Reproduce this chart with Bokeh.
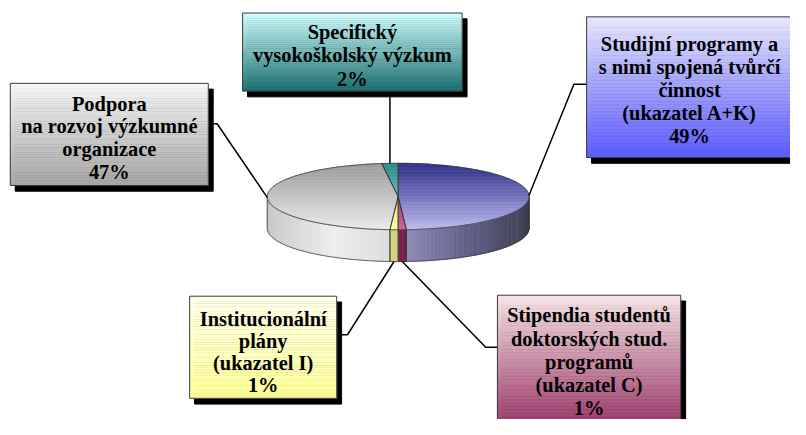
import numpy as np
from bokeh.plotting import figure
from bokeh.models import Range1d
from bokeh.core.properties import value
from bokeh.embed import file_html
from bokeh.resources import INLINE

# ---------------- data ----------------
categories = [
    "Studijní programy a s nimi spojená tvůrčí činnost (ukazatel A+K)",
    "Stipendia studentů doktorských stud. programů (ukazatel C)",
    "Institucionální plány (ukazatel I)",
    "Podpora na rozvoj výzkumné organizace",
    "Specifický vysokoškolský výzkum",
]
shares = [49, 1, 1, 47, 2]
label_lines = [
    ["Studijní programy a", "s nimi spojená tvůrčí", "činnost", "(ukazatel A+K)"],
    ["Stipendia studentů", "doktorských stud.", "programů", "(ukazatel C)"],
    ["Institucionální", "plány", "(ukazatel I)"],
    ["Podpora", "na rozvoj výzkumné", "organizace"],
    ["Specifický", "vysokoškolský výzkum"],
]
pct_labels = [f"{v}%" for v in shares]

# ---------------- styles / layout ----------------
top_colors = [("#2c2c86", "#bdbdf2"), ("#8a1c50", "#d0609a"), ("#c8c850", "#ffff9a"),
              ("#9a9a9a", "#ececec"), ("#248888", "#c8f4f4")]
side_stops = [
    [(0.5, "#9292be"), (0.75, "#62628a"), (1.0, "#3a3a4e")],
    [(0.0, "#7a1f4c"), (1.0, "#7a1f4c")],
    [(0.0, "#d4d47a"), (1.0, "#d4d47a")],
    [(0.0, "#c8c8c8"), (0.25, "#eeeeee"), (0.5, "#dadada")],
    [(0.0, "#1f7070"), (1.0, "#1f7070")],
]
box_grad = [("#e8e8fb", "#5b5bff"), ("#f6e6e6", "#993366"), ("#ffffee", "#ffff99"),
            ("#f6f6f6", "#a6a6a6"), ("#d2ffff", "#1d7373")]
# boxes in reference pixels: (left, top, right, bottom), text centre x, first line y, line step
boxes = [
    ((598, 17, 808, 163), 703, 45, 24.0),
    ((507, 306, 694, 446), 600.5, 327, 24.0),
    ((193, 307, 343, 413), 268, 331, 22.8),
    ((10, 86, 212, 192), 111, 107, 23.7),
    ((247, 13, 471, 94), 359, 33, 24.0),
]
leader_elbows = [
    [(585, 87), (598, 87)],
    [(495, 360), (507, 360)],
    [(354, 347), (343, 347)],
    [(221, 128), (212, 128)],
    [None, (None, 94)],
]
leader_anchor = ["top", "bottom", "bottom", "top", "top"]

REF_W, REF_H = 806, 435
cx, cyY, rx, ry, depth = 405.7, 203.5, 133.5, 34.5, 33.0
cy = REF_H - cyY


def Y(v):
    return REF_H - v


def h2r(h):
    return tuple(int(h[i:i + 2], 16) for i in (1, 3, 5))


def mix(c1, c2, t):
    t = min(max(t, 0.0), 1.0)
    a, b = h2r(c1), h2r(c2)
    return "#%02x%02x%02x" % tuple(int(round(a[i] + (b[i] - a[i]) * t)) for i in range(3))


def ramp(stops, u):
    if u <= stops[0][0]:
        return stops[0][1]
    for (p0, c0), (p1, c1) in zip(stops[:-1], stops[1:]):
        if u <= p1:
            return mix(c0, c1, (u - p0) / (p1 - p0) if p1 > p0 else 0)
    return stops[-1][1]


def top_pt(t):
    r = np.radians(t)
    return cx + rx * np.sin(r), cy + ry * np.cos(r)


def clip_band(poly, lo, hi):
    def half(pts, inside, yv):
        out = []
        for i in range(len(pts)):
            cur, prev = pts[i], pts[i - 1]
            def inter(p, q):
                tt = (yv - p[1]) / (q[1] - p[1])
                return (p[0] + tt * (q[0] - p[0]), yv)
            if inside(cur):
                if not inside(prev):
                    out.append(inter(prev, cur))
                out.append(cur)
            elif inside(prev):
                out.append(inter(prev, cur))
        return out
    pts = half(poly, lambda p: p[1] >= lo, lo)
    if len(pts) < 3:
        return []
    pts = half(pts, lambda p: p[1] <= hi, hi)
    return pts if len(pts) >= 3 else []


W, H = 790, 419
p = figure(width=W, height=H, x_range=Range1d(0, REF_W), y_range=Range1d(0, REF_H),
           output_backend="svg", toolbar_location=None, min_border=0,
           x_axis_location=None, y_axis_location=None)
p.grid.visible = False
p.outline_line_color = None
p.background_fill_color = "white"

total = float(sum(shares))
ends = np.cumsum(shares) / total * 360.0
starts = np.concatenate([[0.0], ends[:-1]])
mids = (starts + ends) / 2

# ---- side walls ----
sx, sy, sc = [], [], []
ox, oy = [], []
for i in range(len(shares)):
    lo, hi = max(starts[i], 90.0), min(ends[i], 270.0)
    if lo >= hi:
        continue
    n = max(2, int((hi - lo) / 1.2))
    ts = np.linspace(lo, hi, n + 1)
    for a, b in zip(ts[:-1], ts[1:]):
        xa, ya = top_pt(a)
        xb, yb = top_pt(b)
        sx.append([xa, xb, xb, xa])
        sy.append([ya, yb, yb - depth, ya - depth])
        u = ((xa + xb) / 2 - (cx - rx)) / (2 * rx)
        sc.append(ramp(side_stops[i], u))
    arc = [top_pt(t) for t in ts]
    ox.append([q[0] for q in arc] + [q[0] for q in arc[::-1]])
    oy.append([q[1] for q in arc] + [q[1] - depth for q in arc[::-1]])
p.patches(sx, sy, fill_color=sc, line_color=sc, line_width=0.6)
p.patches(ox, oy, fill_alpha=0, line_color="#3a3a3a", line_width=0.8)

# ---- top faces ----
tx, ty, tc = [], [], []
wx, wy = [], []
nb = 46
edges = np.linspace(cy - ry - 0.5, cy + ry + 0.5, nb + 1)
for i in range(len(shares)):
    ts = np.linspace(starts[i], ends[i], max(2, int((ends[i] - starts[i]) / 1.0)) + 1)
    poly = [(cx, cy)] + [top_pt(t) for t in ts]
    wx.append([q[0] for q in poly])
    wy.append([q[1] for q in poly])
    for lo, hi in zip(edges[:-1], edges[1:]):
        piece = clip_band(poly, lo, hi)
        if not piece:
            continue
        tx.append([q[0] for q in piece])
        ty.append([q[1] for q in piece])
        u = ((lo + hi) / 2 - (cy - ry)) / (2 * ry)   # 0 front, 1 back
        tc.append(mix(top_colors[i][1], top_colors[i][0], u))
p.patches(tx, ty, fill_color=tc, line_color=tc, line_width=0.6)
p.patches(wx, wy, fill_alpha=0, line_color="#3a3a3a", line_width=0.8)

# ---- leader lines ----
lx, ly = [], []
for i in range(len(shares)):
    x0, y0 = top_pt(mids[i])
    if leader_anchor[i] == "bottom":
        y0 -= depth
    xs, ys = [x0], [y0]
    for el in leader_elbows[i]:
        if el is None:
            continue
        ex = x0 if el[0] is None else el[0]
        xs.append(ex)
        ys.append(Y(el[1]))
    lx.append(xs)
    ly.append(ys)
p.multi_line(lx, ly, line_color="black", line_width=1.5)

# ---- label boxes ----
shL, shR, shT, shB = [], [], [], []
gL, gR, gT, gB, gC = [], [], [], [], []
bL, bR, bT, bB = [], [], [], []
txt_x, txt_y, txt = [], [], []
for i, ((l, t, r, b), tcx, fy, step) in enumerate(boxes):
    shL.append(l + 5); shR.append(r + 5); shT.append(Y(t + 6)); shB.append(Y(b + 6))
    ns = 40
    ed = np.linspace(t, b, ns + 1)
    for k in range(ns):
        gL.append(l); gR.append(r); gT.append(Y(ed[k])); gB.append(Y(ed[k + 1]))
        gC.append(mix(box_grad[i][0], box_grad[i][1], (k + 0.5) / ns))
    bL.append(l); bR.append(r); bT.append(Y(t)); bB.append(Y(b))
    lines = label_lines[i] + [pct_labels[i]]
    for j, s in enumerate(lines):
        txt_x.append(tcx)
        txt_y.append(Y(fy + j * step))
        txt.append(s)

p.quad(left=shL, right=shR, top=shT, bottom=shB, fill_color="black", line_color="black")
p.quad(left=gL, right=gR, top=gT, bottom=gB, fill_color=gC, line_color=gC, line_width=0.6)
p.quad(left=bL, right=bR, top=bT, bottom=bB, fill_alpha=0, line_color="#3c3c3c", line_width=1)

p.text(x=txt_x, y=txt_y, text=txt, text_font=value("Liberation Serif"), text_font_style="bold",
       text_font_size="20.4px", text_align="center", text_baseline="middle", text_color="black")

open("out.html", "w").write(file_html(p, INLINE))
